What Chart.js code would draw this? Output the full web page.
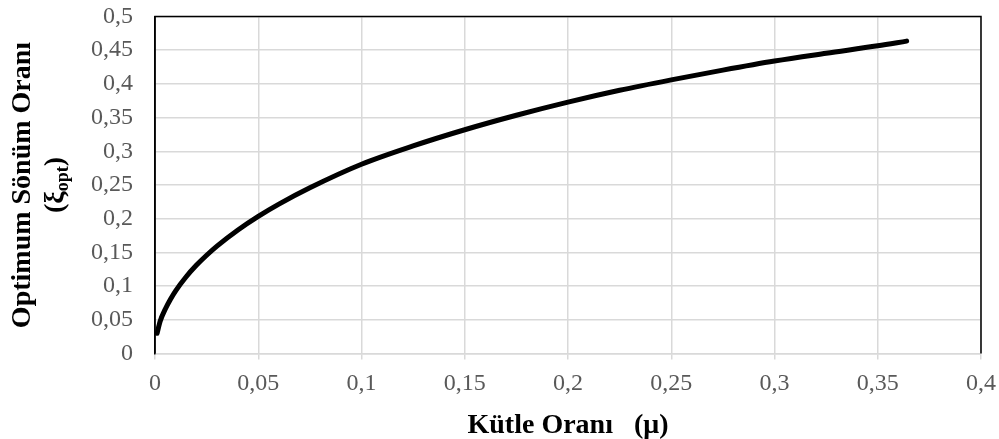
<!DOCTYPE html>
<html>
<head>
<meta charset="utf-8">
<script src="https://cdn.jsdelivr.net/npm/chart.js@4/dist/chart.umd.min.js"></script>
<style>
  html, body { margin: 0; padding: 0; background: #fff; }
  #wrap { width: 999px; height: 439px; }
</style>
</head>
<body>
<div id="wrap"><canvas id="dampingChart" width="999" height="439"></canvas></div>
<script>
// mass ratio (mu) and optimum damping ratio (xi_opt)
var massRatio = [0.001, 0.0025, 0.005, 0.0075, 0.01, 0.015, 0.02, 0.025, 0.03, 0.04,
                 0.05, 0.06, 0.075, 0.1, 0.125, 0.15, 0.175, 0.2, 0.225, 0.25,
                 0.275, 0.3, 0.325, 0.35, 0.364];
var optDamping = [0.030, 0.048, 0.066, 0.0805, 0.093, 0.1135, 0.1308, 0.1458, 0.1594, 0.183,
                  0.2035, 0.2217, 0.2459, 0.2808, 0.308, 0.332, 0.3535, 0.373, 0.3905, 0.406,
                  0.4205, 0.434, 0.4455, 0.4565, 0.4635];

var xTicks = [0, 0.05, 0.1, 0.15, 0.2, 0.25, 0.3, 0.35, 0.4];
var xTickLabels = ['0', '0,05', '0,1', '0,15', '0,2', '0,25', '0,3', '0,35', '0,4'];
var yTicks = [0, 0.05, 0.1, 0.15, 0.2, 0.25, 0.3, 0.35, 0.4, 0.45, 0.5];
var yTickLabels = ['0', '0,05', '0,1', '0,15', '0,2', '0,25', '0,3', '0,35', '0,4', '0,45', '0,5'];

var points = [];
for (var i = 0; i < massRatio.length; i++) {
    points.push({x: massRatio[i], y: optDamping[i]});
}

var gridGray = '#d9d9d9';
var serif = "'Liberation Serif', 'Times New Roman', serif";

// black frame on top / right, plus the two axis titles
var framePlugin = {
    id: 'frameAndTitles',
    afterDraw: function(chart) {
        var c = chart.ctx;
        var a = chart.chartArea;
        c.save();
        c.strokeStyle = '#000';
        c.lineWidth = 1.5;
        c.beginPath();
        c.moveTo(a.left, a.bottom);
        c.lineTo(a.left, a.top);
        c.lineTo(a.right, a.top);
        c.lineTo(a.right, a.bottom);
        c.stroke();

        // x title
        c.fillStyle = '#000';
        c.font = 'bold 28px ' + serif;
        c.textAlign = 'center';
        c.textBaseline = 'alphabetic';
        c.fillText('Kütle Oranı   (μ)', (a.left + a.right) / 2, 433);

        // y title, two lines rotated
        var cy = (a.top + a.bottom) / 2;
        c.translate(0, cy);
        c.rotate(-Math.PI / 2);
        c.textAlign = 'center';
        c.fillText('Optimum Sönüm Oranı', 0, 30);

        var bigFont = 'bold 28px ' + serif;
        var subFont = 'bold 18px ' + serif;
        c.font = bigFont;
        var wOpen = c.measureText('(ξ').width;
        var wClose = c.measureText(')').width;
        c.font = subFont;
        var wSub = c.measureText('opt').width;
        var total = wOpen + wSub + wClose;
        var x0 = -total / 2;
        c.textAlign = 'left';
        c.font = bigFont;
        c.fillText('(ξ', x0, 63);
        c.font = subFont;
        c.fillText('opt', x0 + wOpen, 68);
        c.font = bigFont;
        c.fillText(')', x0 + wOpen + wSub, 63);
        c.restore();
    }
};

var ctx = document.getElementById('dampingChart').getContext('2d');
var chart = new Chart(ctx, {
    type: 'line',
    data: {
        datasets: [{
            label: 'ξopt',
            data: points,
            borderColor: '#000',
            borderWidth: 5,
            borderCapStyle: 'round',
            cubicInterpolationMode: 'monotone',
            pointRadius: 0,
            fill: false
        }]
    },
    options: {
        responsive: false,
        animation: false,
        events: [],
        layout: {
            padding: {top: 16.5, right: 18, left: 0, bottom: 0}
        },
        plugins: {
            legend: {display: false},
            title: {display: false},
            tooltip: {enabled: false}
        },
        scales: {
            x: {
                type: 'linear',
                min: 0,
                max: 0.4,
                afterBuildTicks: function(scale) {
                    scale.ticks = xTicks.map(function(v) { return {value: v}; });
                },
                afterFit: function(scale) {
                    scale.height = 85.5;
                    scale.paddingLeft = 0;
                    scale.paddingRight = 0;
                },
                ticks: {
                    color: '#595959',
                    font: {family: serif, size: 24},
                    padding: 10,
                    maxRotation: 0,
                    callback: function(value, index) { return xTickLabels[index]; }
                },
                grid: {
                    color: gridGray,
                    lineWidth: 1.5,
                    drawTicks: true,
                    tickLength: 6,
                    tickColor: gridGray
                },
                border: {display: true, color: gridGray, width: 1.5}
            },
            y: {
                type: 'linear',
                min: 0,
                max: 0.5,
                afterBuildTicks: function(scale) {
                    scale.ticks = yTicks.map(function(v) { return {value: v}; });
                },
                afterFit: function(scale) {
                    scale.width = 155;
                    scale.paddingTop = 0;
                    scale.paddingBottom = 0;
                },
                ticks: {
                    color: '#595959',
                    font: {family: serif, size: 24},
                    padding: 22,
                    callback: function(value, index) { return yTickLabels[index]; }
                },
                grid: {
                    color: gridGray,
                    lineWidth: 1.5,
                    drawTicks: false
                },
                border: {display: true, color: '#000', width: 1.5}
            }
        }
    },
    plugins: [framePlugin]
});
</script>
</body>
</html>
